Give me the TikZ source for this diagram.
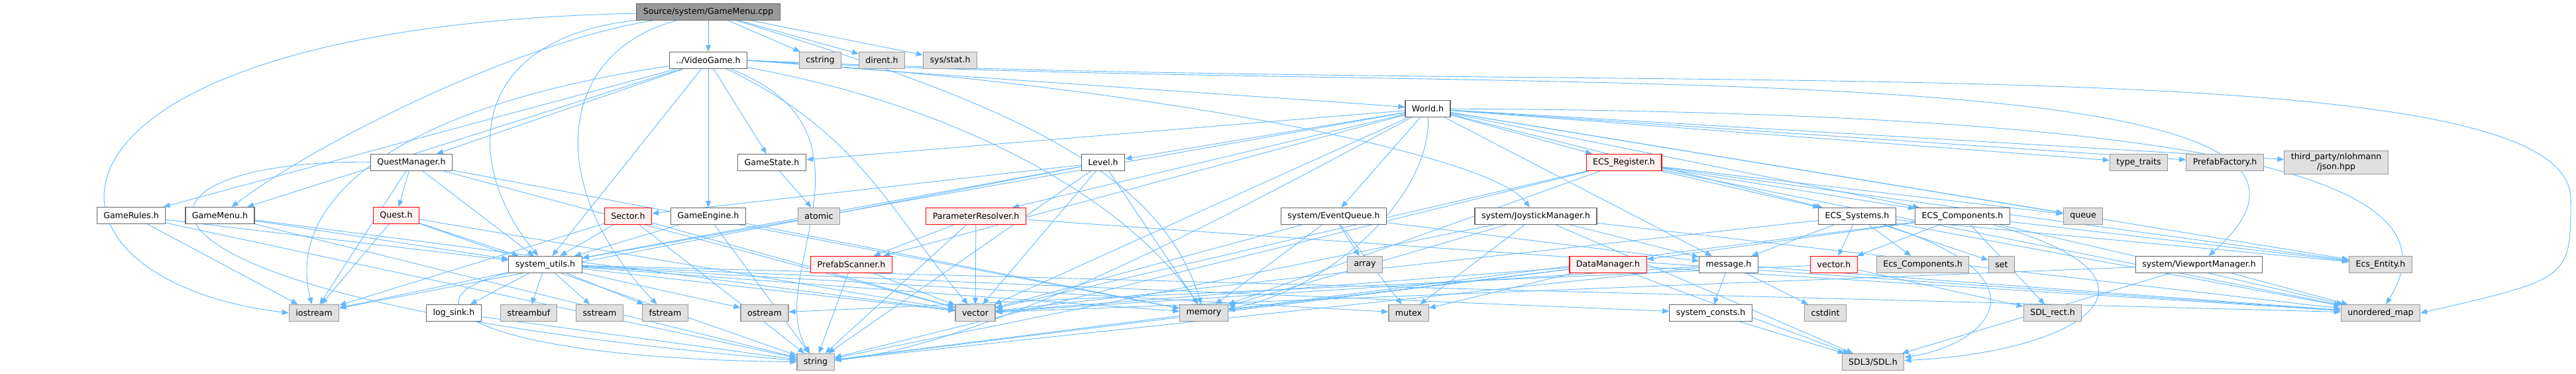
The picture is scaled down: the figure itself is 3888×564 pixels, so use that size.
\documentclass[tikz,border=0pt]{standalone}
\usepackage{fontspec}
\setmainfont{DejaVu Sans}
\usetikzlibrary{arrows.meta,positioning}
\pgfdeclarelayer{background}
\pgfsetlayers{background,main}

\begin{document}
\begin{tikzpicture}[x=1pt,y=-1pt,>={Triangle[length=10pt,width=8pt]},
hdr/.style = {draw=black!60, fill=white, line width=1.2pt, inner xsep=10pt, minimum height=25pt, font=\fontsize{12.6}{15}\selectfont},
sys/.style = {hdr, draw=black!40, fill=black!12},
trunc/.style = {hdr, draw=red, fill=red!6},
root/.style = {hdr, fill=black!40, draw=black!60},
dep/.style = {->, color={rgb,255:red,99;green,184;blue,255}, line width=0.9pt},]
\useasboundingbox (0,0) rectangle (3888,564);
% top rows
\node (src) at (1069,18)[root] {Source/system/GameMenu.cpp};
\node (videogame) at (1069,91)[hdr] {../VideoGame.h};
\node (cstring) at (1238,91)[sys] {cstring};
\node (dirent) at (1331,91)[sys] {dirent.h};
\node (sysstat) at (1434,91)[sys] {sys/stat.h};
\node (world) at (2155,164)[hdr] {World.h};
\node (questmgr) at (621,245)[hdr] {QuestManager.h};
\node (gamestate) at (1165,245)[hdr] {GameState.h};
\node (level) at (1665,245)[hdr] {Level.h};
\node (ecsreg) at (2451,245)[trunc] {ECS\_Register.h};
\node (typetraits) at (3228,245)[sys] {type\_traits};
\node (prefabfactory) at (3358,245)[sys] {PrefabFactory.h};
\node (json) at (3526,245)[sys,align=center,inner ysep=4pt] {third\_party/nlohmann\\/json.hpp};
% middle rows
\node (gamerules) at (198,325)[hdr] {GameRules.h};
\node (gamemenu) at (332,325)[hdr] {GameMenu.h};
\node (quest) at (598,325)[trunc] {Quest.h};
\node (sector) at (948,326)[trunc] {Sector.h};
\node (gameengine) at (1069,326)[hdr] {GameEngine.h};
\node (atomic) at (1236,326)[sys] {atomic};
\node (paramres) at (1473,326)[trunc] {ParameterResolver.h};
\node (eventqueue) at (2013,326)[hdr] {system/EventQueue.h};
\node (joystick) at (2318,326)[hdr] {system/JoystickManager.h};
\node (ecssys) at (2803,326)[hdr] {ECS\_Systems.h};
\node (ecscomp) at (2962,326)[hdr] {ECS\_Components.h};
\node (queue) at (3144,326)[sys] {queue};
\node (sysutils) at (823,399)[hdr] {system\_utils.h};
\node (prefabscan) at (1285,399)[trunc] {PrefabScanner.h};
\node (array) at (2060,399)[sys] {array};
\node (datamgr) at (2427,399)[trunc] {DataManager.h};
\node (message) at (2609,399)[hdr] {message.h};
\node (vectorh) at (2768,399)[trunc] {vector.h};
\node (ecscomptwo) at (2902,399)[sys] {Ecs\_Components.h};
\node (set) at (3021,399)[sys] {set};
\node (viewport) at (3319,399)[hdr] {system/ViewportManager.h};
\node (ecsentity) at (3593,399)[sys] {Ecs\_Entity.h};
% bottom rows
\node (iostream) at (474,472)[sys] {iostream};
\node (logsink) at (685,472)[hdr] {log\_sink.h};
\node (streambuf) at (798,472)[sys] {streambuf};
\node (sstream) at (905,472)[sys] {sstream};
\node (fstream) at (1004,472)[sys] {fstream};
\node (ostream) at (1154,472)[sys] {ostream};
\node (vector) at (1472,472)[sys] {vector};
\node (memory) at (1817,472)[sys] {memory};
\node (mutex) at (2126,472)[sys] {mutex};
\node (sysconsts) at (2582,472)[hdr] {system\_consts.h};
\node (cstdint) at (2755,472)[sys] {cstdint};
\node (sdlrect) at (3098,472)[sys] {SDL\_rect.h};
\node (umap) at (3593,472)[sys] {unordered\_map};
\node (string) at (1231,546)[sys] {string};
\node (sdl) at (2827,546)[sys] {SDL3/SDL.h};
\begin{pgfonlayer}{background}
% includes of GameMenu.cpp
\draw[dep] (src) edge (videogame) edge (cstring) edge (dirent) edge (sysstat);
\draw[dep] (src) .. controls (1500,150) and (1750,250) .. (memory);
\draw[dep] (src) .. controls (5,40) and (5,420) .. (iostream.west);
\draw[dep] (src) .. controls (700,60) and (700,250) .. (sysutils);
\draw[dep] (src) .. controls (840,80) and (820,280) .. (fstream);
\draw[dep] (src) .. controls (800,60) and (500,200) .. (gamemenu);
% includes of VideoGame.h
\draw[dep] (videogame) edge (questmgr) edge (gamerules) edge (gamemenu) edge (gamestate) edge (gameengine) edge (sysutils);
\draw[dep] (videogame.east) .. controls (1500,120) and (1900,145) .. (world);
\draw[dep] (videogame.east) .. controls (1700,125) and (2250,230) .. (joystick);
\draw[dep] (videogame) .. controls (1450,160) and (1700,300) .. (memory);
\draw[dep] (videogame) .. controls (1300,200) and (1350,330) .. (vector);
\draw[dep] (videogame) .. controls (600,160) and (430,300) .. (iostream);
\draw[dep] (videogame) .. controls (1350,200) and (1150,420) .. (string);
\draw[dep] (videogame.east) .. controls (2200,150) and (3700,60) .. (viewport);
\draw[dep] (videogame.east) .. controls (2500,150) and (3880,60) .. (3880,300) .. controls (3880,420) .. (umap.east);
% includes of World.h
\draw[dep] (world) edge (gamestate) edge (level) edge (ecsreg) edge (ecssys) edge (ecscomp) edge (queue) edge (typetraits) edge (prefabfactory) edge (json) edge (eventqueue) edge (paramres) edge (prefabscan) edge (message) edge (ecsentity) edge (vector) edge (sysutils);
\draw[dep] (world) .. controls (2160,300) and (2000,440) .. (memory);
\draw[dep] (world) .. controls (3500,170) and (3700,300) .. (umap);
\draw[dep] (world) .. controls (1900,300) and (1500,520) .. (string);
% includes of the other headers
\draw[dep] (questmgr) edge (quest) edge (iostream) edge (sysutils) edge (vector) edge (memory);
\draw[dep] (questmgr) .. controls (150,240) and (100,450) .. (string);
\draw[dep] (gamerules) edge (iostream) edge (sysutils) edge (string);
\draw[dep] (gamemenu) edge (sysutils) edge (vector) edge (string);
\draw[dep] (quest) edge (iostream) edge (sysutils) edge (vector) edge (string);
\draw[dep] (sector) edge (iostream) edge (sysutils) edge (string) edge (vector);
\draw[dep] (gameengine) edge (sysutils) edge (string) edge (memory);
\draw[dep] (gamestate) edge (atomic);
\draw[dep] (level) edge (sector) edge (iostream) edge (sysutils) edge (vector) edge (string) edge (memory);
\draw[dep] (paramres) edge (prefabscan) edge (string) edge (vector) edge (umap);
\draw[dep] (prefabscan) edge (string) edge (vector);
\draw[dep] (eventqueue) edge (array) edge (mutex) edge (memory) edge (vector) edge (message);
\draw[dep] (joystick) edge (memory) edge (mutex) edge (message) edge (sdl) edge (umap) edge (string);
\draw[dep] (ecsreg) edge (ecssys) edge (ecscomp) edge (queue) edge (ecsentity) edge (umap) edge (vector) edge (memory) edge (string);
\draw[dep] (ecssys) edge (message) edge (vectorh) edge (ecscomptwo) edge (set) edge (ecsentity) edge (umap) edge (vector);
\draw[dep] (ecssys) .. controls (3100,420) and (3000,520) .. (sdl);
\draw[dep] (ecscomp) edge (vectorh) edge (sdlrect) edge (ecsentity) edge (umap) edge (datamgr) edge (string);
\draw[dep] (ecscomp) .. controls (3300,420) and (3150,530) .. (sdl);
\draw[dep] (datamgr) edge (memory) edge (mutex) edge (vector) edge (string) edge (sdl) edge (umap);
\draw[dep] (message) edge (sysconsts) edge (cstdint) edge (string) edge (vector) edge (umap);
\draw[dep] (vectorh) edge (sdlrect) edge (ostream);
\draw[dep] (viewport) edge (umap) edge (vector) edge (sdl);
\draw[dep] (sysutils) edge (iostream) edge (logsink) edge (streambuf) edge (sstream) edge (fstream) edge (ostream) edge (vector) edge (mutex) edge (memory) edge (sysconsts) edge (umap);
\draw[dep] (sysutils) .. controls (600,450) and (700,540) .. (string);
\draw[dep] (logsink) edge (string);
\draw[dep] (sysconsts) edge (sdl);
\end{pgfonlayer}
\end{tikzpicture}
\end{document}
